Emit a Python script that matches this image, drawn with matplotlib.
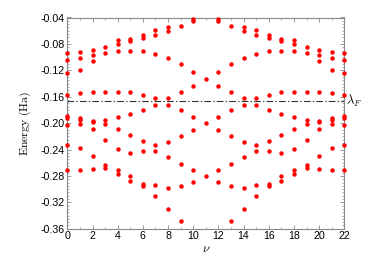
import matplotlib
matplotlib.use("Agg")
import matplotlib.pyplot as plt
from matplotlib.ticker import MultipleLocator, FormatStrFormatter

plt.rcParams['font.family'] = ['Liberation Sans', 'DejaVu Sans']
plt.rcParams['mathtext.fontset'] = 'cm'
plt.rcParams['axes.unicode_minus'] = False

nu = list(range(23))
energies = [
    [-0.0933, -0.1048, -0.1236, -0.1570, -0.1890, -0.1920, -0.2026, -0.2328, -0.2705],  # 0
    [-0.0927, -0.1014, -0.1191, -0.1549, -0.1927, -0.1953, -0.2018, -0.2380, -0.2706],  # 1
    [-0.0897, -0.0963, -0.1055, -0.1534, -0.1963, -0.1986, -0.2091, -0.2498, -0.2690],  # 2
    [-0.0847, -0.0933, -0.1524, -0.1958, -0.2018, -0.2256, -0.2636, -0.2685],           # 3
    [-0.0746, -0.0802, -0.0908, -0.1524, -0.1912, -0.2092, -0.2393, -0.2708, -0.2769],  # 4
    [-0.0721, -0.0752, -0.0903, -0.1534, -0.1857, -0.2180, -0.2447, -0.2805, -0.2877],  # 5
    [-0.0660, -0.0711, -0.0908, -0.1570, -0.1797, -0.2264, -0.2430, -0.2929, -0.2950],  # 6
    [-0.0585, -0.0670, -0.0948, -0.1620, -0.1730, -0.2332, -0.2428, -0.2940, -0.3097],  # 7
    [-0.0544, -0.0605, -0.1017, -0.1620, -0.1730, -0.2282, -0.2518, -0.2981, -0.3306],  # 8
    [-0.0528, -0.1112, -0.1532, -0.1807, -0.2198, -0.2624, -0.2948, -0.3479],           # 9
    [-0.0430, -0.0453, -0.1219, -0.1436, -0.1907, -0.2107, -0.2718, -0.2885],           # 10
    [-0.1330, -0.2005, -0.2809],                                                         # 11
    [-0.0430, -0.0453, -0.1219, -0.1436, -0.1907, -0.2107, -0.2718, -0.2885],           # 12
    [-0.0528, -0.1112, -0.1532, -0.1807, -0.2198, -0.2624, -0.2948, -0.3479],           # 13
    [-0.0544, -0.0605, -0.1017, -0.1620, -0.1730, -0.2282, -0.2518, -0.2981, -0.3306],  # 14
    [-0.0585, -0.0670, -0.0948, -0.1620, -0.1730, -0.2332, -0.2428, -0.2940, -0.3097],  # 15
    [-0.0660, -0.0711, -0.0908, -0.1570, -0.1797, -0.2264, -0.2430, -0.2929, -0.2950],  # 16
    [-0.0721, -0.0752, -0.0903, -0.1534, -0.1857, -0.2180, -0.2447, -0.2805, -0.2877],  # 17
    [-0.0746, -0.0802, -0.0908, -0.1524, -0.1912, -0.2092, -0.2393, -0.2708, -0.2769],  # 18
    [-0.0847, -0.0933, -0.1524, -0.1958, -0.2018, -0.2256, -0.2636, -0.2685],           # 19
    [-0.0897, -0.0963, -0.1055, -0.1534, -0.1963, -0.1986, -0.2091, -0.2498, -0.2690],  # 20
    [-0.0927, -0.1014, -0.1191, -0.1549, -0.1927, -0.1953, -0.2018, -0.2380, -0.2706],  # 21
    [-0.0933, -0.1048, -0.1236, -0.1570, -0.1890, -0.1920, -0.2026, -0.2328, -0.2705],  # 22
]
fermi_level = -0.1665
x_ticks = list(range(0, 23, 2))
y_ticks = [-0.36, -0.32, -0.28, -0.24, -0.20, -0.16, -0.12, -0.08, -0.04]

fig = plt.figure(figsize=(3.74, 2.80), dpi=100)
ax = fig.add_axes([0.180, 0.1832, 0.7406, 0.7543])

xs, ys = [], []
for n, vals in zip(nu, energies):
    for v in vals:
        xs.append(n)
        ys.append(v)
ax.plot(xs, ys, 'o', color='#ff0000', markersize=3.2, markeredgewidth=0, clip_on=False, zorder=3)

ax.axhline(fermi_level, color='#333333', linestyle=(0, (6, 2, 1.2, 2)), linewidth=0.8, zorder=2)
ax.text(22.15, fermi_level, r'$\lambda_F$', fontsize=9, va='center', ha='left')

ax.set_xlim(0, 22)
ax.set_ylim(-0.36, -0.04)
ax.set_xticks(x_ticks)
ax.set_yticks(y_ticks)
ax.yaxis.set_major_formatter(FormatStrFormatter('%.2f'))
ax.xaxis.set_minor_locator(MultipleLocator(1))
ax.yaxis.set_minor_locator(MultipleLocator(0.005))

for s in ax.spines.values():
    s.set_color('#888888')
    s.set_linewidth(0.8)
ax.tick_params(which='both', direction='in', top=True, right=True, color='#888888', labelsize=7.7, pad=2)
ax.tick_params(which='major', length=3, width=0.6)
ax.tick_params(which='minor', length=1.5, width=0.5)

ax.set_xlabel(r'$\nu$', fontsize=9, labelpad=1)
ax.set_ylabel(r'$\mathrm{Energy\ (Ha)}$', fontsize=8.5, labelpad=5)

fig.savefig('out.png', dpi=100)
